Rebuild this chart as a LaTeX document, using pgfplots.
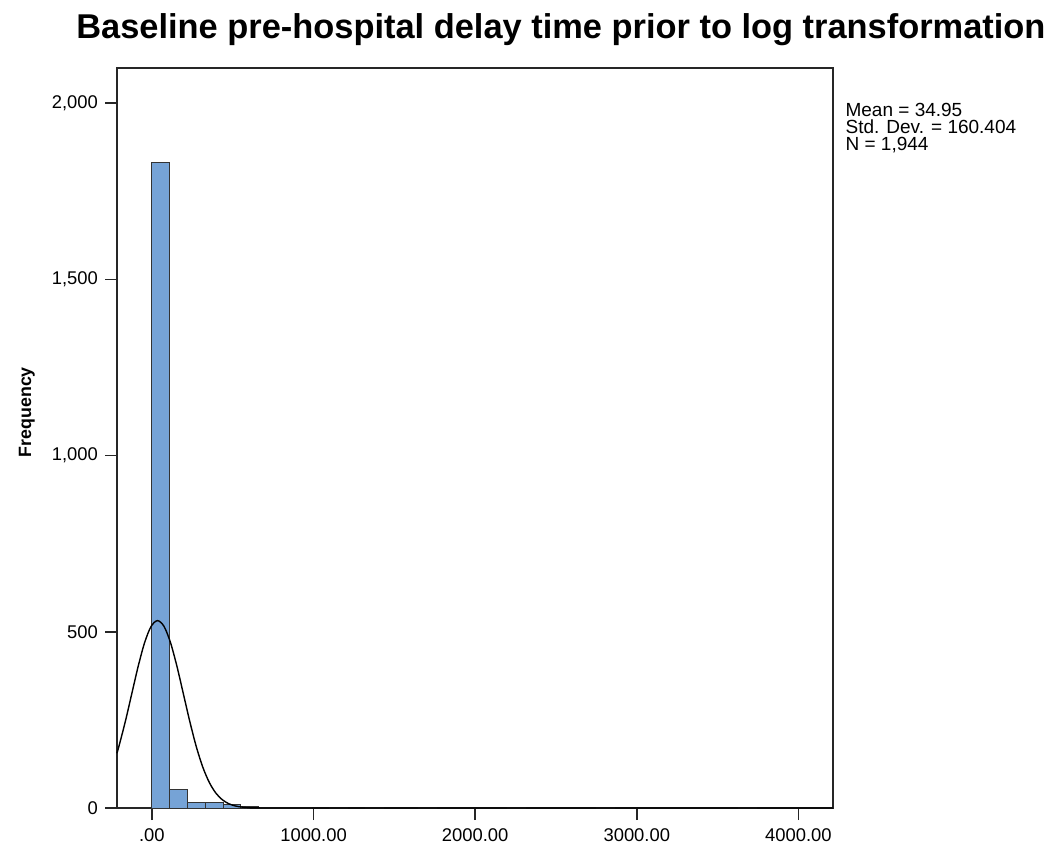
\documentclass[border=0pt]{standalone}
\usepackage{fontspec}
\setmainfont{Liberation Sans}
\usepackage{pgfplots}
\pgfplotsset{compat=1.18}
\definecolor{spssblue}{HTML}{76A3D6}

\begin{document}
\begin{tikzpicture}
\begin{axis}[
  scale only axis,
  width=358pt,
  height=370pt,
  xmin=-216, xmax=4214,
  ymin=0, ymax=2100,
  axis line style={line width=0.8pt, black!85},
  xtick={0,1000,2000,3000,4000},
  xticklabels={.00,1000.00,2000.00,3000.00,4000.00},
  ytick={0,500,1000,1500,2000},
  yticklabel style={/pgf/number format/.cd,1000 sep={,}},
  /pgf/number format/assume math mode=true,
  tick align=outside,
  tick pos=left,
  major tick length=6pt,
  tick style={line width=0.8pt, black!85},
  tick label style={font=\fontsize{9.2}{10}\selectfont},
  xticklabel style={yshift=-1pt},
  ylabel={\textbf{Frequency}},
  ylabel style={font=\fontsize{8.9}{10}\selectfont, at={(rel axis cs:-0.105,0.535)}},
  clip=false,
]
\path[use as bounding box] (rel axis cs:-0.1634,-0.054) rectangle (rel axis cs:1.3184,1.0919);
\addplot[ybar, bar width=110, bar shift=0pt, fill=spssblue, draw=black!80, line width=0.5pt]
  coordinates {
  (55,1832) (165,53) (275,16) (385,16) (495,11)
  (605,4) (715,2) (825,2) (935,1) (1155,1) (1375,1)
  (1705,1) (2255,1) (2805,1) (3685,1)
  };
\addplot[smooth, black, line width=0.7pt]
  coordinates {
  (-216.6,155.5) (-205.66,172.6) (-165.56,243.5) (-125.45,322.6)
  (-85.35,401.4) (-45.25,469.3) (-5.15,515.4) (34.95,531.8)
  (75.05,515.4) (115.15,469.3) (155.25,401.4) (195.35,322.6)
  (235.46,243.5) (275.56,172.6) (315.66,115.0) (355.76,72.0)
  (395.86,42.3) (435.96,23.4) (476.06,12.1) (516.16,5.9)
  (556.26,2.7) (596.36,1.16) (676.57,0.18) (756.8,0.02)
  (837,0) (4214,0)
  };
\node[anchor=center, font=\fontsize{17.2}{19}\selectfont\bfseries] at (rel axis cs:0.620,1.0514) {Baseline pre-hospital delay time prior to log transformation};
\node[anchor=north west, align=left, inner sep=0pt, font=\fontsize{9.5}{8.6}\selectfont] at (rel axis cs:1.017,0.953) {Mean = 34.95\\Std. Dev. = 160.404\\N = 1,944};
\end{axis}
\end{tikzpicture}
\end{document}
